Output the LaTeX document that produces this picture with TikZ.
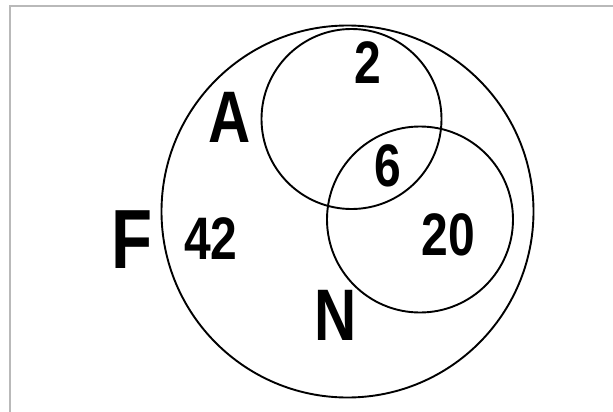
\documentclass[tikz,border=0pt]{standalone}
\usepackage{fontspec}
\newfontfamily\labfont[FakeStretch=0.8]{Liberation Sans}
\tikzset{
  ring/.style={draw=black, line width=1.9pt},
  lab/.style={inner sep=0pt, anchor=center, font=\labfont\bfseries},
  num/.style={lab, font=\labfont\bfseries\fontsize{60}{62}\selectfont},
  big/.style={lab, font=\labfont\bfseries\fontsize{73}{75}\selectfont},
  huge/.style={lab, font=\labfont\bfseries\fontsize{84}{86}\selectfont}
}
\begin{document}
\begin{tikzpicture}[x=1pt,y=-1pt]
\useasboundingbox (0,0) rectangle (613,412);
\draw[gray!55, line width=2pt] (10,412) -- (10,6) -- (613,6);
\draw[ring] (347.5,211.5) circle (186);
\draw[ring] (351.5,119) circle (90);
\draw[ring] (420,219.5) circle (93);
\node[huge] (F) at (132,240) {F};
\node[big] (A) at (230,117.5) {A};
\node[big] (N) at (336,315) {N};
\node[num] (n42) at (211,239) {42};
\node[num] (n2) at (368,62.5) {2};
\node[num] (n6) at (387.5,166) {6};
\node[num] (n20) at (448.5,235) {20};
\end{tikzpicture}
\end{document}
